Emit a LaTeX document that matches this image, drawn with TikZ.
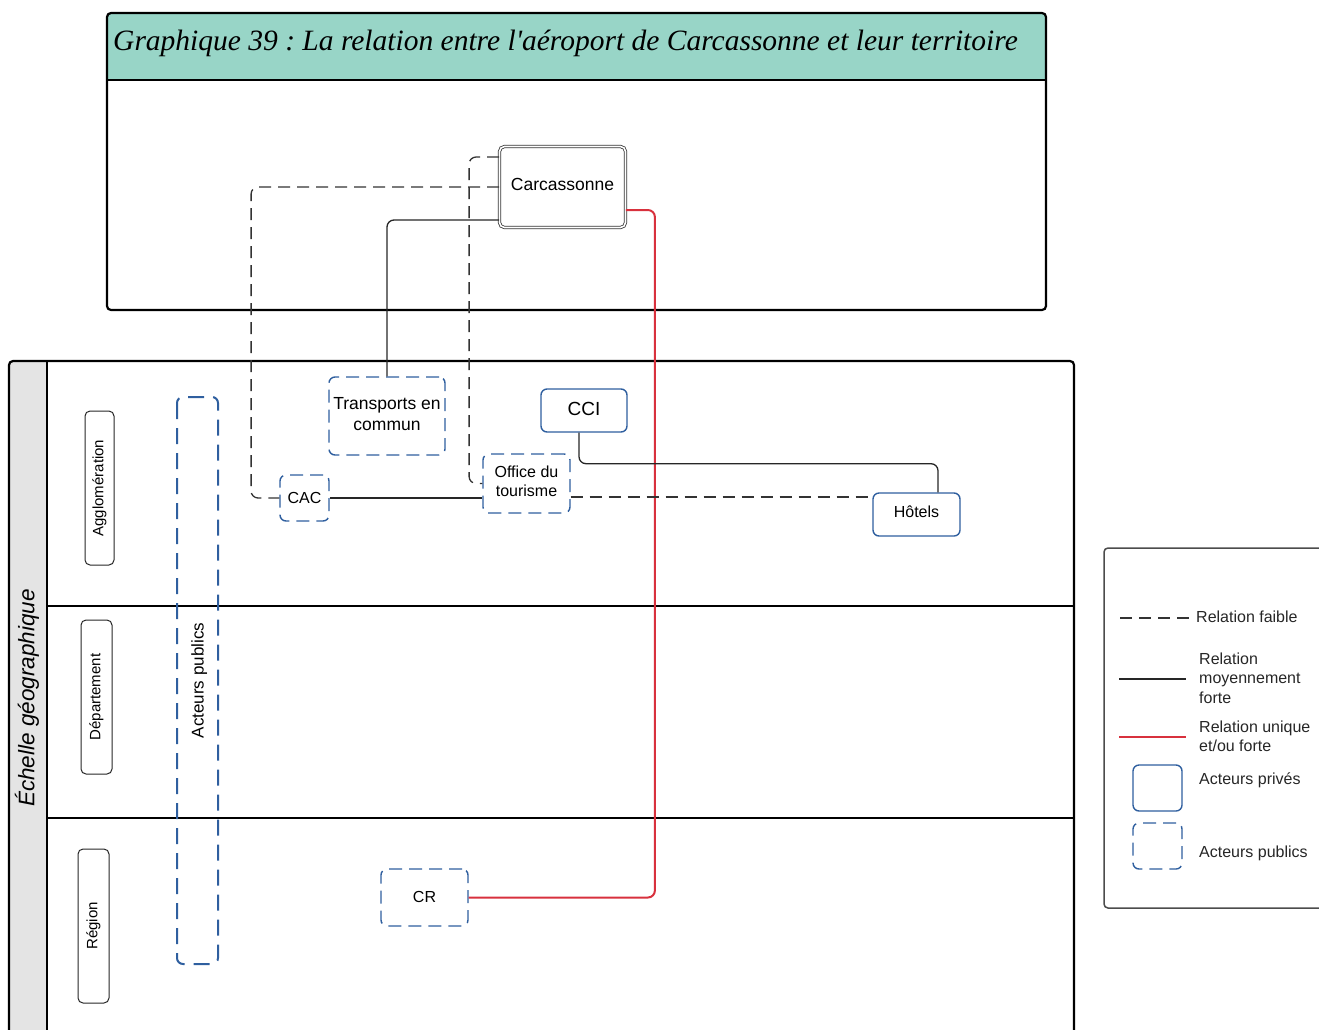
\documentclass[tikz,border=0pt]{standalone}
\usepackage{fontspec}
\setmainfont{Liberation Sans}
\newfontfamily\titlefont{Liberation Serif}
\usepackage{tikz}
\usetikzlibrary{arrows.meta,positioning,calc}
\definecolor{headteal}{HTML}{98D5C7}
\definecolor{actblue}{HTML}{2F5F9F}
\definecolor{relred}{HTML}{D8313D}
\definecolor{bandgray}{HTML}{E4E4E4}
\frenchspacing
\tikzset{
  act/private/.style={draw=actblue, line width=1.4pt, rounded corners=6pt, fill=white, align=center, inner sep=0pt, text depth=4pt, font=\fontsize{16}{19}\selectfont},
  act/public/.style={act/private, dash pattern=on 13pt off 7pt},
  act/city/.style={draw=black!80, line width=0.8pt, double=white, double distance=1.6pt, rounded corners=5pt, fill=white, inner sep=0pt, text depth=5pt, font=\fontsize{17.5}{21}\selectfont},
  rel/weak/.style={draw=black!80, line width=1.3pt, dash pattern=on 12pt off 7pt, rounded corners=7pt},
  rel/mid/.style={draw=black!85, line width=1.3pt, rounded corners=7pt},
  rel/strong/.style={draw=relred, line width=2pt, rounded corners=7pt},
  lane/frame/.style={line width=2.2pt},
  lane/label/.style={draw=black!85, line width=1pt, rounded corners=5pt, rotate=90, inner sep=0pt, minimum width=154pt, font=\fontsize{15}{18}\selectfont},
  leg/text/.style={anchor=west, align=left, inner sep=0pt, font=\fontsize{16}{19.5}\selectfont, text=black!85}
}
\begin{document}
\begin{tikzpicture}[x=1pt,y=-1pt]
\useasboundingbox (0,0) rectangle (1319,1029);
% title frame
\fill[headteal] (107,80) [rounded corners=4pt] |- (576,13) -| (1046,80) [sharp corners] -- cycle;
\draw[lane/frame, rounded corners=4pt] (107,13) rectangle (1046,310);
\draw[lane/frame] (107,80) -- (1046,80);
\node[anchor=base west, inner sep=0pt, font=\titlefont\itshape\fontsize{29.5}{32}\selectfont] (title) at (113,50)
  {Graphique 39 : La relation entre l'aéroport de Carcassonne et leur territoire};
% lanes
\fill[bandgray] (9,1040) [rounded corners=4pt] |- (47,361) [sharp corners] -- (47,1040) -- cycle;
\draw[lane/frame] (9,1040) [rounded corners=4pt] |- (1074,361) [sharp corners] -- (1074,1040);
\draw[lane/frame] (47,361) -- (47,1040);
\draw[lane/frame] (47,606) -- (1074,606);
\draw[lane/frame] (47,818) -- (1074,818);
\node[rotate=90, font=\itshape\fontsize{22.5}{26}\selectfont] (scale) at (27,698) {Échelle géographique};
\node[lane/label, minimum height=29pt] (agglo) at (99.5,488) {Agglomération};
\node[lane/label, minimum height=31pt] (dept) at (96.5,697) {Département};
\node[lane/label, minimum height=31pt] (region) at (93.5,926) {Région};
\node[act/public, fill=none, rotate=90, minimum width=567pt, minimum height=41pt, line width=2pt, text depth=0pt, dash pattern=on 16pt off 9pt, font=\fontsize{17}{20}\selectfont] (pub) at (197.5,680.5) {Acteurs publics};
% actors
\node[act/city, minimum width=126pt, minimum height=81pt] (carc) at (562.5,187) {Carcassonne};
\node[act/public, minimum width=116pt, minimum height=78pt, font=\fontsize{17.5}{21}\selectfont] (trans) at (387,416) {Transports en\\commun};
\node[act/private, minimum width=86pt, minimum height=43pt, font=\fontsize{19}{22}\selectfont] (cci) at (584,410.5) {CCI};
\node[act/public, minimum width=49pt, minimum height=46pt, text depth=0pt] (cac) at (304.5,498) {CAC};
\node[act/public, minimum width=87pt, minimum height=59pt] (office) at (526.5,483.5) {Office du\\tourisme};
\node[act/private, minimum width=87pt, minimum height=43pt, text depth=5pt] (hotels) at (916.5,514.5) {Hôtels};
\node[act/public, minimum width=87pt, minimum height=57pt, text depth=2pt] (cr) at (424.5,897.5) {CR};
% relations
\draw[rel/weak] (carc.west) -- ++(-248,0) |- (cac.west);
\draw[rel/weak] ([yshift=30pt]carc.west) -- ++(-30,0) |- (office.west);
\draw[rel/mid] ([yshift=-33pt]carc.west) -| (trans.north);
\draw[rel/strong] ([yshift=-23pt]carc.east) -- ++(29,0) |- (cr.east);
\draw[rel/mid] (cac.east) -- (cac.east -| office.west);
\draw[rel/weak] ([yshift=-13.5pt]office.east) -- ([yshift=-13.5pt]office.east -| hotels.west);
\draw[rel/mid] ([xshift=-5pt]cci.south) -- ++(0,31) -| ([xshift=21.5pt]hotels.north);
% legend
\draw[draw=black!70, line width=1.5pt] (1340,548) [rounded corners=4pt] -| (1104,908) -- (1340,908);
\coordinate (lw1) at (1120,618); \coordinate (lw2) at (1190,618);
\coordinate (lm1) at (1119,679); \coordinate (lm2) at (1186,679);
\coordinate (ls1) at (1119,737); \coordinate (ls2) at (1186,737);
\draw[rel/weak] (lw1) -- (lw2);
\draw[rel/mid] (lm1) -- (lm2);
\draw[draw=relred, line width=1.3pt] (ls1) -- (ls2);
\node[leg/text] (legweak) at (1196,617) {Relation faible};
\node[leg/text] (legmid) at (1199,678) {Relation\\moyennement\\forte};
\node[leg/text] (legstrong) at (1199,736.5) {Relation unique\\et/ou forte};
\node[act/private, minimum width=49pt, minimum height=46pt] (legpriv) at (1157.5,788) {};
\node[act/public, minimum width=49pt, minimum height=46pt] (legpub) at (1157.5,846) {};
\node[leg/text] (legpriv text) at (1199,780) {Acteurs privés};
\node[leg/text] (legpub text) at (1199,853) {Acteurs publics};
\end{tikzpicture}
\end{document}
